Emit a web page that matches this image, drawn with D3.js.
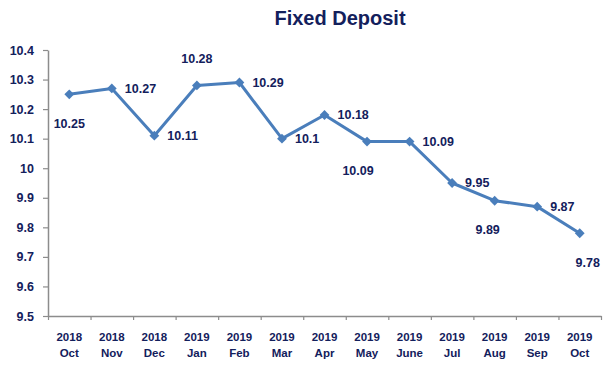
<!DOCTYPE html>
<html>
<head>
<meta charset="utf-8">
<script src="https://cdn.jsdelivr.net/npm/d3@7"></script>
<style>
  body { margin: 0; background: #fff; }
  svg text { font-family: "Liberation Sans", Arial, sans-serif; font-weight: bold; fill: #13205c; }
</style>
</head>
<body>
<svg id="chart"></svg>
<script>
// chart data
const years = ["2018", "2018", "2018", "2019", "2019", "2019", "2019", "2019", "2019", "2019", "2019", "2019", "2019"];
const months = ["Oct", "Nov", "Dec", "Jan", "Feb", "Mar", "Apr", "May", "June", "Jul", "Aug", "Sep", "Oct"];
const rates = [10.25, 10.27, 10.11, 10.28, 10.29, 10.1, 10.18, 10.09, 10.09, 9.95, 9.89, 9.87, 9.78];
const yTicks = [9.5, 9.6, 9.7, 9.8, 9.9, 10, 10.1, 10.2, 10.3, 10.4];

// where each value label sits: r = right, b = below, t = above
const labelSide = ["b", "r", "r", "t", "r", "r", "r", "b", "r", "r", "b", "r", "b"];
const labelNudge = [0, 0, 0, 0, 0, 0, 0, -9, 0, 0, -7, 0, 8];

const W = 606, H = 367;
const plot = { left: 48, right: 601, top: 50, bottom: 316 };
const navy = "#13205c";
const blue = "#4a7ebb";

const svg = d3.select("#chart").attr("width", W).attr("height", H);

// title
svg.append("text")
  .attr("x", 340)
  .attr("y", 25)
  .attr("text-anchor", "middle")
  .style("font-size", "20px")
  .text("Fixed Deposit");

// scales
const x = d3.scaleBand()
  .domain(d3.range(rates.length))
  .range([plot.left, plot.right])
  .padding(0);

const xEdge = d3.scaleLinear()
  .domain([0, rates.length])
  .range([plot.left, plot.right]);

const y = d3.scaleLinear()
  .domain([9.5, 10.4])
  .range([plot.bottom, plot.top]);

// y axis
const yAxis = svg.append("g")
  .attr("transform", `translate(${plot.left},0)`)
  .call(d3.axisLeft(y).tickValues(yTicks).tickSize(5).tickSizeOuter(0).tickPadding(9).tickFormat(d3.format("")));
yAxis.selectAll("text").style("font-size", "12.5px").attr("fill", navy);

// x axis: ticks at category edges, labels in the middle
const xAxis = svg.append("g")
  .attr("transform", `translate(0,${plot.bottom})`)
  .call(d3.axisBottom(xEdge).tickValues(d3.range(rates.length + 1)).tickSize(4).tickSizeOuter(0).tickFormat(""));

[yAxis, xAxis].forEach((g) => {
  g.select(".domain").attr("stroke", "#8c8c8c").attr("stroke-width", 1.5);
  g.selectAll(".tick line").attr("stroke", "#8c8c8c").attr("stroke-width", 1.2);
});

const xLabels = svg.append("g")
  .selectAll("text")
  .data(months)
  .enter()
  .append("text")
  .attr("text-anchor", "middle")
  .style("font-size", "11.5px");
xLabels.append("tspan")
  .attr("x", (d, i) => x(i) + x.bandwidth() / 2)
  .attr("y", 341)
  .text((d, i) => years[i]);
xLabels.append("tspan")
  .attr("x", (d, i) => x(i) + x.bandwidth() / 2)
  .attr("y", 357)
  .text((d) => d);

// line
const cx = (i) => x(i) + x.bandwidth() / 2;
const line = d3.line()
  .x((d, i) => cx(i))
  .y((d) => y(d));

svg.append("path")
  .datum(rates)
  .attr("fill", "none")
  .attr("stroke", blue)
  .attr("stroke-width", 3)
  .attr("stroke-linejoin", "round")
  .attr("d", line);

// diamond markers
svg.selectAll(".marker")
  .data(rates)
  .enter()
  .append("path")
  .attr("class", "marker")
  .attr("d", d3.symbol().type(d3.symbolSquare).size(48))
  .attr("transform", (d, i) => `translate(${cx(i)},${y(d)}) rotate(45)`)
  .attr("fill", blue);

// value labels
svg.selectAll(".value")
  .data(rates)
  .enter()
  .append("text")
  .attr("class", "value")
  .style("font-size", "12.5px")
  .attr("dy", "0.35em")
  .attr("text-anchor", (d, i) => (labelSide[i] === "r" ? "start" : "middle"))
  .attr("x", (d, i) => (labelSide[i] === "r" ? cx(i) + 13 : cx(i) + labelNudge[i]))
  .attr("y", (d, i) => {
    if (labelSide[i] === "t") return y(d) - 27;
    if (labelSide[i] === "b") return y(d) + 29;
    return y(d);
  })
  .text((d) => d);
</script>
</body>
</html>
